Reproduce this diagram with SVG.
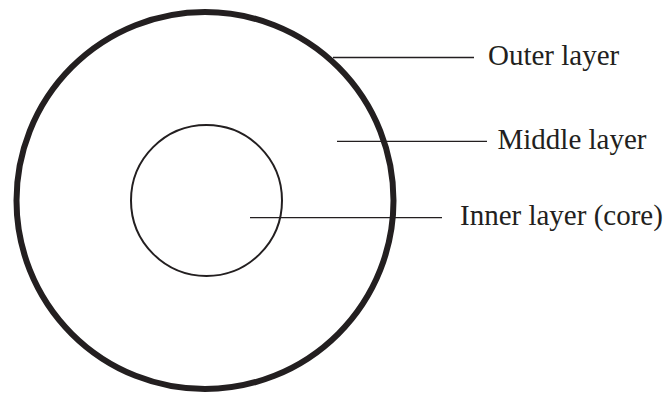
<svg xmlns="http://www.w3.org/2000/svg" width="666" height="393" viewBox="0 0 666 393">
<style>
.lbl{font-family:"Liberation Serif","Times New Roman",serif;font-size:29px;fill:#231f20}
.ld{stroke:#231f20;stroke-width:1.3;fill:none}
</style>
<rect width="666" height="393" fill="#fff"/>
<g id="outer-layer">
<circle cx="205" cy="200.5" r="188.5" fill="none" stroke="#231f20" stroke-width="6"/>
</g>
<g id="inner-layer">
<circle cx="206.5" cy="200.5" r="75.5" fill="none" stroke="#231f20" stroke-width="2"/>
</g>
<g id="connectors">
<line class="ld" x1="333" y1="57.5" x2="474" y2="57.5"/>
<line class="ld" x1="337" y1="141.3" x2="487" y2="141.3"/>
<line class="ld" x1="250" y1="217.7" x2="442" y2="217.7"/>
</g>
<g id="labels">
<text class="lbl" x="488" y="64.5">Outer layer</text>
<text class="lbl" x="497.5" y="148.5">Middle layer</text>
<text class="lbl" x="460" y="224.5">Inner layer (core)</text>
</g>
</svg>
